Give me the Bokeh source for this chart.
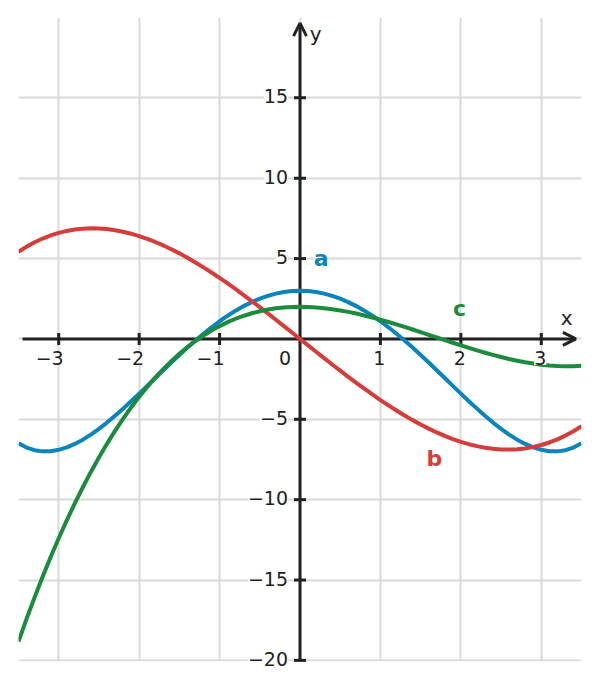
from bokeh.plotting import figure
from bokeh.models import (Range1d, Grid, FixedTicker, Arrow, OpenHead, LabelSet,
                          Label, ColumnDataSource, BoxAnnotation)
from bokeh.core.properties import value
from bokeh.embed import file_html
from bokeh.resources import INLINE

# ---- data ----
xs = [-3.5, -3.4, -3.3, -3.2, -3.1, -3.0, -2.9, -2.8, -2.7, -2.6, -2.5, -2.4, -2.3, -2.2,
      -2.1, -2.0, -1.9, -1.8, -1.7, -1.6, -1.5, -1.4, -1.3, -1.2, -1.1, -1.0, -0.9, -0.8,
      -0.7, -0.6, -0.5, -0.4, -0.3, -0.2, -0.1, 0.0, 0.1, 0.2, 0.3, 0.4, 0.5, 0.6, 0.7,
      0.8, 0.9, 1.0, 1.1, 1.2, 1.3, 1.4, 1.5, 1.6, 1.7, 1.8, 1.9, 2.0, 2.1, 2.2, 2.3,
      2.4, 2.5, 2.6, 2.7, 2.8, 2.9, 3.0, 3.1, 3.2, 3.3, 3.4, 3.5]
a_vals = [-6.494, -6.757, -6.921, -6.994, -6.985, -6.9, -6.747, -6.533, -6.266, -5.95,
          -5.594, -5.202, -4.782, -4.337, -3.875, -3.4, -2.917, -2.43, -1.945, -1.465,
          -0.994, -0.536, -0.094, 0.327, 0.726, 1.1, 1.446, 1.761, 2.044, 2.293, 2.506,
          2.683, 2.821, 2.92, 2.98, 3.0, 2.98, 2.92, 2.821, 2.683, 2.506, 2.293, 2.044,
          1.761, 1.446, 1.1, 0.726, 0.327, -0.094, -0.536, -0.994, -1.465, -1.945, -2.43,
          -2.917, -3.4, -3.875, -4.337, -4.782, -5.202, -5.594, -5.95, -6.266, -6.533,
          -6.747, -6.9, -6.985, -6.994, -6.921, -6.757, -6.494]
b_vals = [5.425, 5.739, 6.013, 6.246, 6.442, 6.6, 6.722, 6.81, 6.863, 6.885, 6.875, 6.835,
          6.767, 6.67, 6.548, 6.4, 6.228, 6.034, 5.817, 5.581, 5.325, 5.051, 4.761, 4.454,
          4.134, 3.8, 3.454, 3.098, 2.731, 2.357, 1.975, 1.587, 1.195, 0.798, 0.4, 0.0,
          -0.4, -0.798, -1.195, -1.587, -1.975, -2.357, -2.731, -3.098, -3.454, -3.8,
          -4.134, -4.454, -4.761, -5.051, -5.325, -5.581, -5.817, -6.034, -6.228, -6.4,
          -6.548, -6.67, -6.767, -6.835, -6.875, -6.885, -6.863, -6.81, -6.722, -6.6,
          -6.442, -6.246, -6.013, -5.739, -5.425]
c_vals = [-18.825, -17.421, -16.077, -14.794, -13.568, -12.4, -11.288, -10.23, -9.227,
          -8.275, -7.375, -6.525, -5.723, -4.97, -4.262, -3.6, -2.982, -2.406, -1.873,
          -1.379, -0.925, -0.509, -0.129, 0.214, 0.524, 0.8, 1.044, 1.258, 1.441, 1.597,
          1.725, 1.827, 1.905, 1.958, 1.99, 2.0, 1.99, 1.962, 1.915, 1.853, 1.775, 1.683,
          1.579, 1.462, 1.336, 1.2, 1.056, 0.906, 0.749, 0.589, 0.425, 0.259, 0.093,
          -0.074, -0.238, -0.4, -0.558, -0.71, -0.857, -0.995, -1.125, -1.245, -1.353,
          -1.45, -1.532, -1.6, -1.652, -1.686, -1.703, -1.699, -1.675]

x_ticks = [-3, -2, -1, 1, 2, 3]
x_tick_labels = ["\u22123", "\u22122", "\u22121", "1", "2", "3"]
y_ticks = [15, 10, 5, -5, -10, -15, -20]
y_tick_labels = ["15", "10", "5", "\u22125", "\u221210", "\u221215", "\u221220"]
x_grid = [-3, -2, -1, 0, 1, 2, 3]
y_grid = [-20, -15, -10, -5, 0, 5, 10, 15]

series_names = ["a", "b", "c"]
series_colors = ["#0a84bd", "#d63c3a", "#1a8c3c"]

AX = "#222222"
FONT = "DejaVu Sans"

p = figure(width=591, height=684, x_range=Range1d(-3.5, 3.5), y_range=Range1d(-21.5, 20),
           x_axis_type=None, y_axis_type=None, output_backend="svg",
           toolbar_location=None, min_border_left=18, min_border_right=10,
           min_border_top=17, min_border_bottom=0)
p.outline_line_color = None
p.background_fill_color = "white"

vgrid = Grid(dimension=0, ticker=FixedTicker(ticks=x_grid),
             grid_line_color="#d9d9d9", grid_line_width=2)
hgrid = Grid(dimension=1, ticker=FixedTicker(ticks=y_grid),
             grid_line_color="#d9d9d9", grid_line_width=2)
p.add_layout(vgrid)
p.add_layout(hgrid)
# keep the area below the last grid line blank
p.add_layout(BoxAnnotation(top=-20.06, fill_color="white", fill_alpha=1.0,
                           line_color=None, level="underlay"))

# axes with arrow heads
p.add_layout(Arrow(end=OpenHead(size=13, line_width=3, line_color=AX),
                   x_start=-3.45, y_start=0, x_end=3.43, y_end=0,
                   line_width=3, line_color=AX, level="underlay"))
p.add_layout(Arrow(end=OpenHead(size=13, line_width=3, line_color=AX),
                   x_start=0, y_start=-20, x_end=0, y_end=19.65,
                   line_width=3, line_color=AX, level="underlay"))

# tick marks
p.scatter(x_ticks, [0] * len(x_ticks), marker="dash", size=12, angle=1.5708,
          line_color=AX, line_width=3)
p.scatter([0] * len(y_ticks), y_ticks, marker="dash", size=12,
          line_color=AX, line_width=3)

# curves
for vals, col in zip([a_vals, b_vals, c_vals], series_colors):
    p.line(xs, vals, line_color=col, line_width=4, line_join="round")

# tick labels
xsrc = ColumnDataSource(dict(x=x_ticks, y=[0] * len(x_ticks), t=x_tick_labels))
p.add_layout(LabelSet(x="x", y="y", text="t", source=xsrc, text_align="right",
                      text_baseline="middle", x_offset=5, y_offset=-19,
                      text_font=value(FONT), text_font_size=value("19px"),
                      text_color=AX, background_fill_color="white"))
zsrc = ColumnDataSource(dict(x=[0], y=[0], t=["0"]))
p.add_layout(LabelSet(x="x", y="y", text="t", source=zsrc, text_align="right",
                      text_baseline="middle", x_offset=-9, y_offset=-19,
                      text_font=value(FONT), text_font_size=value("19px"),
                      text_color=AX, background_fill_color="white"))
ysrc = ColumnDataSource(dict(x=[0] * len(y_ticks), y=y_ticks, t=y_tick_labels))
p.add_layout(LabelSet(x="x", y="y", text="t", source=ysrc, text_align="right",
                      text_baseline="middle", x_offset=-12, y_offset=1.5,
                      text_font=value(FONT), text_font_size=value("19px"),
                      text_color=AX, background_fill_color="white"))

# axis names
p.add_layout(Label(x=3.317, y=0.83, text="x", text_align="center",
                   text_baseline="alphabetic", text_font=FONT, y_offset=8,
                   text_font_size="20px", text_color=AX))
p.add_layout(Label(x=0.12, y=18.49, text="y", text_align="left",
                   text_baseline="alphabetic", text_font=FONT, y_offset=8,
                   text_font_size="20px", text_color=AX))

# curve names
name_pos = [(0.262, 4.50), (1.672, -7.92), (1.984, 1.39)]
for name, col, (lx, ly) in zip(series_names, series_colors, name_pos):
    p.add_layout(Label(x=lx, y=ly, text=name, text_align="center",
                       text_baseline="alphabetic", text_font=FONT, y_offset=8,
                       text_font_style="bold", text_font_size="22px",
                       text_color=col))

open("out.html", "w").write(file_html(p, INLINE))
